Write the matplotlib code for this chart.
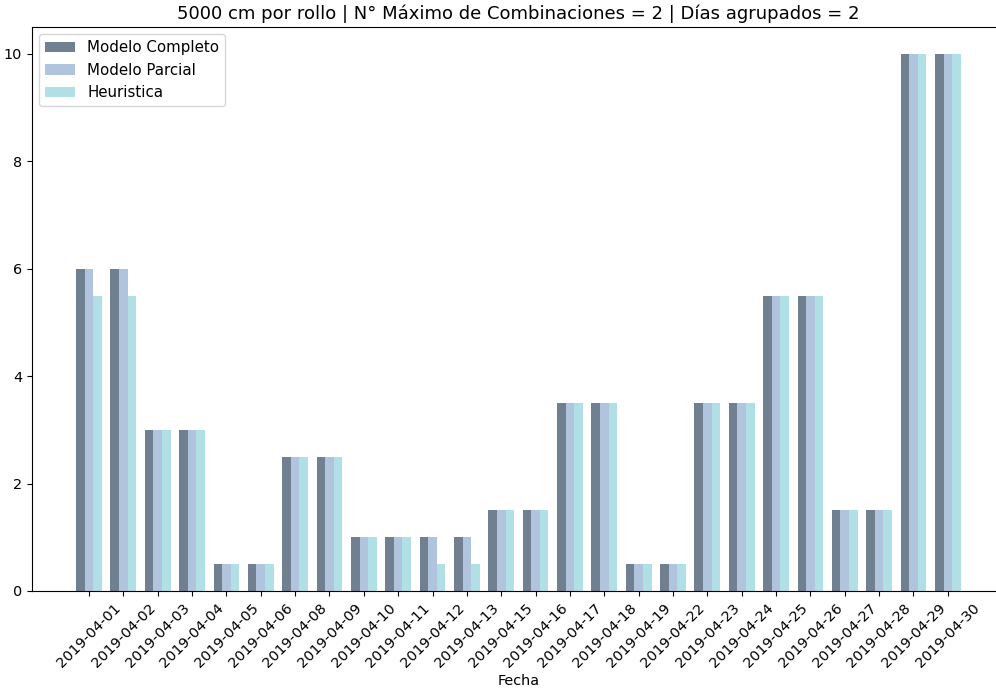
import matplotlib.pyplot as plt
import numpy as np

# fechas y valores
fechas = ["2019-04-01", "2019-04-02", "2019-04-03", "2019-04-04", "2019-04-05",
          "2019-04-06", "2019-04-08", "2019-04-09", "2019-04-10", "2019-04-11",
          "2019-04-12", "2019-04-13", "2019-04-15", "2019-04-16", "2019-04-17",
          "2019-04-18", "2019-04-19", "2019-04-22", "2019-04-23", "2019-04-24",
          "2019-04-25", "2019-04-26", "2019-04-27", "2019-04-28", "2019-04-29",
          "2019-04-30"]
completo = [6, 6, 3, 3, 0.5, 0.5, 2.5, 2.5, 1, 1, 1, 1, 1.5, 1.5, 3.5, 3.5,
            0.5, 0.5, 3.5, 3.5, 5.5, 5.5, 1.5, 1.5, 10, 10]
parcial = [6, 6, 3, 3, 0.5, 0.5, 2.5, 2.5, 1, 1, 1, 1, 1.5, 1.5, 3.5, 3.5,
           0.5, 0.5, 3.5, 3.5, 5.5, 5.5, 1.5, 1.5, 10, 10]
heuristica = [5.5, 5.5, 3, 3, 0.5, 0.5, 2.5, 2.5, 1, 1, 0.5, 0.5, 1.5, 1.5, 3.5, 3.5,
              0.5, 0.5, 3.5, 3.5, 5.5, 5.5, 1.5, 1.5, 10, 10]

x = np.arange(len(fechas))
w = 0.25
fs = 10.4

fig, ax = plt.subplots(figsize=(9.96, 6.9), dpi=100)
ax.bar(x, completo, w, color="slategray", label="Modelo Completo")
ax.bar(x + w, parcial, w, color="lightsteelblue", label="Modelo Parcial")
ax.bar(x + 2 * w, heuristica, w, color="powderblue", label="Heuristica")

ax.set_xticks(x + w)
ax.set_xticklabels(fechas, rotation=45, fontsize=fs)
ax.tick_params(axis="y", labelsize=fs)
ax.set_xlabel("Fecha", fontsize=fs, labelpad=3)
ax.set_title("5000 cm por rollo | N° Máximo de Combinaciones = 2 | Días agrupados = 2", fontsize=13)
ax.legend(loc="upper left", fontsize=10.8)

# el eje derecho queda fuera de la imagen, como en el original
plt.subplots_adjust(left=0.032, right=1.009, top=0.961, bottom=0.1435)
plt.savefig("out.png")
